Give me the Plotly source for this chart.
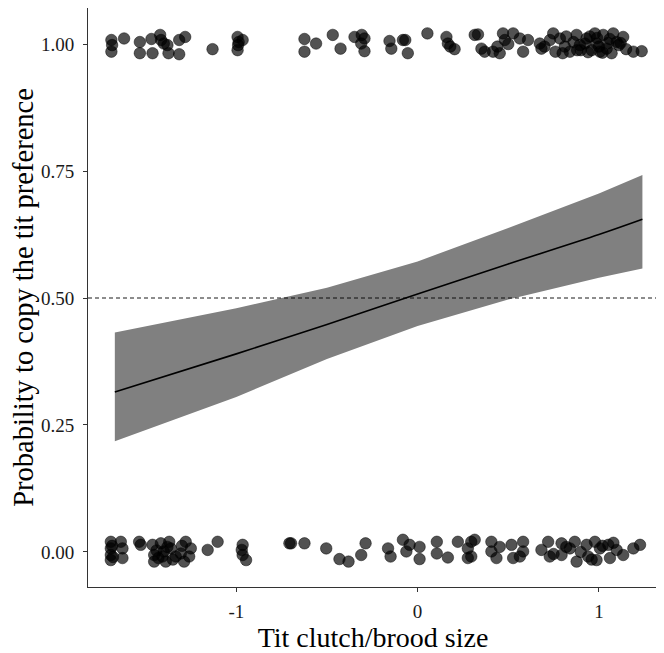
import plotly.graph_objects as go

# Observations (jittered) copying = 1
x_top = [-1.689, -1.689, -1.685, -1.619, -1.532, -1.532, -1.468, -1.462, -1.420, -1.415, -1.380, -1.374,
         -1.400, -1.315, -1.315, -1.282, -1.131, -0.993, -0.987, -0.993, -0.965, -0.990,
         -0.624, -0.560, -0.624, -0.468, -0.425, -0.348, -0.308, -0.293, -0.311, -0.293,
         -0.155, -0.145, -0.081, -0.068, -0.054, 0.054, 0.159, 0.167, 0.204, 0.180, 0.315,
         0.333, 0.352, 0.370, 0.416, 0.453, 0.471, 0.481, 0.527, 0.564, 0.582, 0.609, 0.440, 0.500,
         0.674, 0.683, 0.748, 0.785, 0.812, 0.840, 0.877, 0.895, 0.932, 0.978, 0.987, 1.024,
         1.043, 1.079, 1.098, 1.134, 1.006, 1.070, 1.190, 1.236, 0.960, 0.923, 0.700, 0.760,
         0.860, 0.900, 0.950, 1.000, 1.020, 1.060, 1.110, 0.940, 0.990, 1.050, 0.820, 0.880,
         0.730, 0.800, 1.120, 1.150]
y_top = [1.008, 0.985, 0.998, 1.011, 1.004, 0.982, 1.010, 0.982, 1.018, 1.008, 0.998, 0.982,
         1.001, 1.008, 0.980, 1.014, 0.990, 1.014, 1.004, 0.988, 1.008, 0.998,
         1.010, 1.001, 0.985, 1.018, 0.991, 1.014, 1.018, 1.011, 1.001, 0.986,
         1.006, 0.991, 1.008, 1.008, 0.982, 1.021, 1.014, 1.001, 0.990, 0.995, 1.018,
         1.019, 0.991, 0.985, 0.985, 0.982, 1.021, 1.008, 1.021, 1.011, 0.985, 1.008, 0.995, 1.000,
         1.001, 0.991, 1.021, 1.011, 0.995, 0.985, 1.018, 0.998, 1.011, 1.021, 1.001, 1.018,
         0.991, 1.021, 1.004, 1.014, 0.985, 0.982, 0.985, 0.986, 0.988, 1.001, 0.995, 0.985,
         1.004, 0.988, 1.015, 0.995, 0.983, 1.010, 0.998, 0.984, 1.012, 1.002, 1.015, 0.988,
         1.008, 0.982, 1.002, 0.990]

# Observations (jittered) copying = 0
x_bot = [-1.692, -1.692, -1.692, -1.692, -1.685, -1.680, -1.637, -1.628, -1.628, -1.536, -1.527,
         -1.462, -1.453, -1.453, -1.416, -1.407, -1.389, -1.370, -1.361, -1.334, -1.306, -1.288,
         -1.279, -1.251, -1.260, -1.440, -1.400, -1.350, -1.300, -1.430, -1.380,
         -1.158, -1.103, -0.965, -0.965, -0.946, -0.970, -0.707,
         -0.698, -0.624, -0.504, -0.431, -0.381, -0.311, -0.287, -0.163, -0.149, -0.081, -0.062,
         -0.044, 0.011, 0.011, 0.106, 0.106, 0.167, 0.222, 0.277, 0.277, 0.315,
         0.296, 0.296, 0.407, 0.407, 0.453, 0.435, 0.518, 0.527, 0.582, 0.582, 0.564, 0.683,
         0.720, 0.729, 0.794, 0.794, 0.840, 0.867, 0.877, 0.932, 0.941, 0.978, 0.987, 1.006,
         1.052, 1.061, 1.098, 1.134, 1.190, 1.227, 0.900, 0.960, 1.020, 0.750, 0.820, 1.080]
y_bot = [0.020, 0.007, -0.006, -0.016, 0.012, -0.010, 0.020, 0.007, -0.012, 0.020, 0.014,
         0.014, -0.006, -0.019, 0.017, -0.009, -0.019, 0.020, 0.007, -0.009, -0.003, -0.019,
         0.020, 0.007, -0.009, 0.003, 0.001, -0.015, 0.012, -0.012, 0.010,
         0.004, 0.020, 0.014, -0.006, -0.016, 0.004, 0.017,
         0.017, 0.017, 0.007, -0.014, -0.019, -0.006, 0.017, 0.007, -0.009, 0.024, 0.001,
         0.014, 0.010, -0.014, 0.020, -0.003, -0.011, 0.020, 0.007, -0.012, 0.024,
         0.020, -0.009, 0.020, 0.001, 0.010, -0.012, 0.014, -0.012, 0.020, 0.001, -0.009, 0.004,
         0.020, -0.009, 0.017, -0.006, 0.007, 0.020, -0.019, 0.014, -0.009, 0.020, -0.016, 0.007,
         0.014, -0.012, 0.004, -0.006, 0.007, 0.014, 0.000, -0.015, 0.012, -0.004, 0.010, 0.018]

# Fitted logistic curve with 95% CI
fit_x = [-1.67, -1.0, -0.5, 0.0, 0.5, 1.0, 1.24]
fit_y = [0.315, 0.390, 0.448, 0.508, 0.567, 0.625, 0.655]
fit_lo = [0.218, 0.305, 0.380, 0.445, 0.497, 0.540, 0.558]
fit_hi = [0.432, 0.480, 0.520, 0.572, 0.638, 0.706, 0.742]

y_ticks = [0.0, 0.25, 0.5, 0.75, 1.0]
y_ticklabels = ["0.00", "0.25", "0.50", "0.75", "1.00"]
x_ticks = [-1, 0, 1]
x_ticklabels = ["-1", "0", "1"]

FONT = "Liberation Serif, Times New Roman, serif"

fig = go.Figure()

fig.add_trace(go.Scatter(x=fit_x + fit_x[::-1], y=fit_hi + fit_lo[::-1], fill="toself",
                         fillcolor="#808080", line=dict(width=0), mode="lines",
                         hoverinfo="skip", showlegend=False))
fig.add_trace(go.Scatter(x=fit_x, y=fit_y, mode="lines", line=dict(color="black", width=1.6, shape="spline"),
                         showlegend=False))

marker = dict(size=11.5, color="rgba(0,0,0,0.68)", line=dict(color="rgba(0,0,0,0.8)", width=0.6))
fig.add_trace(go.Scatter(x=x_top, y=y_top, mode="markers", marker=marker, showlegend=False))
fig.add_trace(go.Scatter(x=x_bot, y=y_bot, mode="markers", marker=marker, showlegend=False))

fig.add_hline(y=0.5, line=dict(color="black", width=0.9, dash="4px,3px"))

fig.update_layout(
    width=664, height=653,
    margin=dict(l=80, r=14, t=0, b=74),
    paper_bgcolor="white", plot_bgcolor="white",
    font=dict(family=FONT, color="black"),
    xaxis=dict(range=[-1.818, 1.326], tickvals=x_ticks, ticktext=x_ticklabels, automargin=False,
               showgrid=False, zeroline=False, showline=True, linecolor="#333333", linewidth=1,
               ticks="outside", ticklen=4, tickcolor="#333333", ticklabelstandoff=3,
               tickfont=dict(size=19, family=FONT, color="#1a1a1a"),
               title=dict(text="Tit clutch/brood size", font=dict(size=28, family=FONT), standoff=4)),
    yaxis=dict(range=[-0.069, 1.071], tickvals=y_ticks, ticktext=y_ticklabels, automargin=False,
               showgrid=False, zeroline=False, showline=True, linecolor="#333333", linewidth=1,
               ticks="outside", ticklen=4, tickcolor="#333333", ticklabelstandoff=5,
               tickfont=dict(size=19, family=FONT, color="#1a1a1a"),
               title=dict(text="Probability to copy the tit preference", font=dict(size=28.5, family=FONT), standoff=6)),
)

fig.write_html("out.html")
